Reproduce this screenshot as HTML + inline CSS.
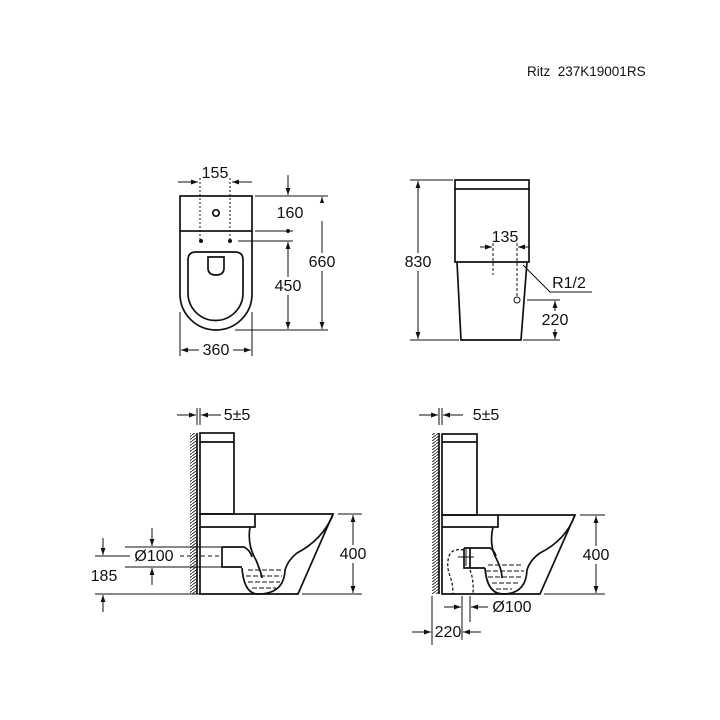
<!DOCTYPE html>
<html><head><meta charset="utf-8"><style>
html,body{margin:0;padding:0;background:#fff}
svg{display:block}
text{font-family:"Liberation Sans",sans-serif;fill:#111}
.d{font-size:16px}
</style></head><body>
<svg width="720" height="720" viewBox="0 0 720 720" xmlns="http://www.w3.org/2000/svg">
<defs>
<marker id="a" viewBox="0 0 10 10" refX="10" refY="5" markerWidth="7" markerHeight="7" orient="auto-start-reverse"><path d="M0,1.5 L10,5 L0,8.5 z" fill="#111"/></marker>
<pattern id="h" width="4" height="3" patternUnits="userSpaceOnUse"><path d="M0,3 L4,0" stroke="#333" stroke-width="1"/></pattern>
</defs>
<text x="527" y="76" font-size="13.5">Ritz&#160;&#160;237K19001RS</text>

<g fill="none" stroke="#111" stroke-width="1.7">
<rect x="180" y="196" width="72" height="35"/>
<path d="M180,231 V294 A36,36 0 0 0 252,294 V231"/>
<path d="M188,260 Q188,252 196,252 H235 Q243,252 243,260 V293 A27.5,27.5 0 0 1 188,293 Z"/>
<path d="M208,257 H224 V268 Q224,275 216,275 Q208,275 208,268 Z"/>
<circle cx="216" cy="213" r="3.2"/>
</g>
<g stroke="#111" stroke-width="1" fill="none">
<path d="M200,178 V240 M230,178 V240" stroke-dasharray="2,2"/>
<path d="M178,182 H198" marker-end="url(#a)"/><path d="M252,182 H232" marker-end="url(#a)"/>
<path d="M255,196 H328 M255,231 H293 M238,241 H293 M235,330 H328"/>
<path d="M288,175 V195" marker-end="url(#a)"/>
<path d="M288,242 V329" marker-start="url(#a)" marker-end="url(#a)"/>
<path d="M322,197 V329" marker-start="url(#a)" marker-end="url(#a)"/>
<path d="M180,312 V356 M252,312 V356"/>
<path d="M181,350 H251" marker-start="url(#a)" marker-end="url(#a)"/>
</g>
<circle cx="201" cy="241" r="2" fill="#111"/><circle cx="230" cy="241" r="2" fill="#111"/><circle cx="288" cy="231" r="2" fill="#111"/>
<rect x="297" y="203" width="30" height="18" fill="#fff"/>
<text class="d" x="215" y="178" text-anchor="middle">155</text>
<text class="d" x="290" y="218" text-anchor="middle">160</text>
<rect x="274" y="277" width="30" height="18" fill="#fff"/>
<text class="d" x="288" y="291" text-anchor="middle">450</text>
<rect x="306" y="253" width="32" height="18" fill="#fff"/>
<text class="d" x="322" y="267" text-anchor="middle">660</text>
<rect x="199" y="342" width="34" height="16" fill="#fff"/>
<text class="d" x="216" y="355" text-anchor="middle">360</text>

<g fill="none" stroke="#111" stroke-width="1.7">
<rect x="455" y="180" width="74" height="9"/>
<path d="M455,189 V262 H529 V189"/>
<path d="M457,262 L461,340 H521 L527,262"/>
</g>
<g stroke="#111" stroke-width="1" fill="none">
<path d="M410,180 H453 M410,340 H459"/>
<path d="M418,181 V339" marker-start="url(#a)" marker-end="url(#a)"/>
<path d="M493,243 V275 M517,243 V297" stroke-dasharray="3,2"/>
<path d="M480,247 H492" marker-end="url(#a)"/><path d="M530,247 H518" marker-end="url(#a)"/>
<circle cx="517" cy="300" r="3"/>
<path d="M523,265 L550,292 H592"/>
<path d="M527,300 H560 M523,340 H560"/>
<path d="M555,301 V339" marker-start="url(#a)" marker-end="url(#a)"/>
</g>
<rect x="403" y="253" width="30" height="18" fill="#fff"/>
<text class="d" x="418" y="267" text-anchor="middle">830</text>
<text class="d" x="505" y="242" text-anchor="middle">135</text>
<text class="d" x="569" y="288" text-anchor="middle">R1/2</text>
<rect x="540" y="311" width="30" height="18" fill="#fff"/>
<text class="d" x="555" y="325" text-anchor="middle">220</text>

<rect x="190" y="433" width="7" height="161" fill="url(#h)"/>
<g fill="none" stroke="#111" stroke-width="1.7">
<path d="M197,433 V594"/>
<rect x="200" y="433" width="34" height="81"/>
<path d="M200,442 H234"/>
<path d="M200,514 H333 L298,594 H200 Z"/>
<path d="M200,527 H255 V514"/>
<path d="M250,527 Q247,545 256,560 Q262,575 262,578"/>
<path d="M222,547 V567 H242"/>
<path d="M222,547 H244 Q250,550 252,557"/>
<path d="M242,568 Q244,594 258,594 Q284,594 285,570 Q288,560 297,553 Q322,540 333,515"/>
</g>
<g stroke="#111" stroke-width="1" fill="none">
<path d="M197,408 V425 M200,408 V425"/>
<path d="M177,415 H196" marker-end="url(#a)"/><path d="M221,415 H201" marker-end="url(#a)"/>
<path d="M125,547 H222 M125,567 H222"/>
<path d="M180,556 H222" stroke-dasharray="4,3"/>
<path d="M152,528 V546" marker-end="url(#a)"/><path d="M152,585 V568" marker-end="url(#a)"/>
<path d="M95,556 H130 M95,594 H200"/>
<path d="M103,538 V555" marker-end="url(#a)"/><path d="M103,612 V595" marker-end="url(#a)"/>
<path d="M338,514 H362 M302,594 H362"/>
<path d="M353,515 V593" marker-start="url(#a)" marker-end="url(#a)"/>
<path d="M248,570 H282 M246,576 H282 M248,582 H280 M252,588 H276" stroke-dasharray="5,2"/>
</g>
<text class="d" x="237" y="420" text-anchor="middle">5±5</text>
<text class="d" x="154" y="561" text-anchor="middle">Ø100</text>
<text class="d" x="104" y="581" text-anchor="middle">185</text>
<rect x="338" y="545" width="30" height="18" fill="#fff"/>
<text class="d" x="353" y="559" text-anchor="middle">400</text>

<rect x="432" y="433" width="7" height="161" fill="url(#h)"/>
<g fill="none" stroke="#111" stroke-width="1.7">
<path d="M439,433 V594"/>
<rect x="442" y="434" width="35" height="81"/>
<path d="M442,442 H477"/>
<path d="M442,515 H575 L540,594 H442 Z"/>
<path d="M442,527 H498 V515"/>
<path d="M493,527 Q489,545 496,558 Q502,570 502,578"/>
<path d="M464,548 V568 H485"/>
<path d="M464,548 H490 Q494,550 496,556"/>
<path d="M485,568 Q487,594 503,594 Q526,594 527,570 Q530,560 540,553 Q566,540 575,515"/>
<path d="M470,548 V568"/>
</g>
<g stroke="#111" stroke-width="1.2" fill="none" stroke-dasharray="3,2">
<path d="M464,550 Q452,548 449,556 Q446,566 450,576 Q453,584 453,594"/>
<path d="M470,570 Q474,580 473,594"/>
</g>
<g stroke="#111" stroke-width="1" fill="none">
<path d="M458,557 H474 M466,549 V566"/>
<path d="M439,408 V425 M442,408 V425"/>
<path d="M419,415 H438" marker-end="url(#a)"/><path d="M463,415 H443" marker-end="url(#a)"/>
<path d="M580,515 H605 M544,594 H605"/>
<path d="M596,516 V593" marker-start="url(#a)" marker-end="url(#a)"/>
<path d="M462,596 V640 M470,596 V622 M432,596 V645"/>
<path d="M444,607 H461" marker-end="url(#a)"/><path d="M488,607 H471" marker-end="url(#a)"/>
<path d="M412,632 H431" marker-end="url(#a)"/><path d="M481,632 H463" marker-end="url(#a)"/>
<path d="M488,565 H523 M486,571 H524 M488,577 H522 M492,583 H518 M496,589 H512" stroke-dasharray="5,2"/>
</g>
<text class="d" x="486" y="420" text-anchor="middle">5±5</text>
<text class="d" x="512" y="612" text-anchor="middle">Ø100</text>
<text class="d" x="448" y="637" text-anchor="middle">220</text>
<rect x="581" y="546" width="30" height="18" fill="#fff"/>
<text class="d" x="596" y="560" text-anchor="middle">400</text>
</svg>
</body></html>
